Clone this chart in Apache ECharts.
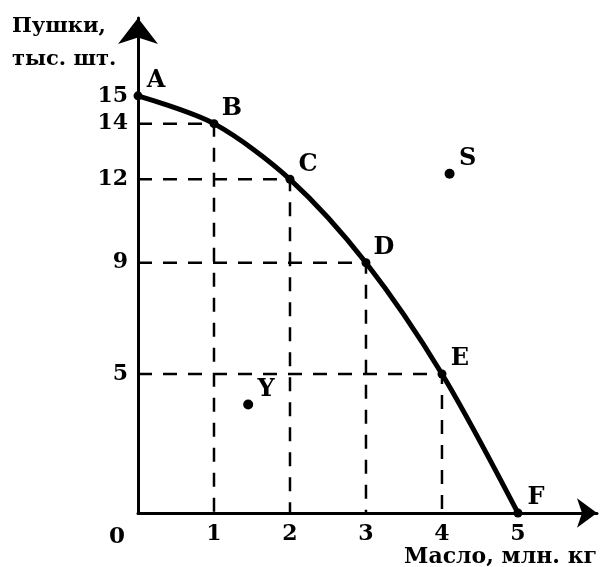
<!DOCTYPE html>
<html>
<head>
<meta charset="utf-8">
<script src="https://cdn.jsdelivr.net/npm/echarts@6/dist/echarts.min.js"></script>
<style>
  html, body { margin: 0; padding: 0; background: #fff; }
  #chart { width: 600px; height: 567px; }
</style>
</head>
<body>
<div id="chart"></div>
<script>
// production possibilities: butter (mln kg) vs guns (thousand pcs)
const pointNames = ['A', 'B', 'C', 'D', 'E', 'F'];
const butter = [0, 1, 2, 3, 4, 5];
const guns = [15, 14, 12, 9, 5, 0];

// points off the curve
const extraNames = ['S', 'Y'];
const extraButter = [4.1, 1.45];
const extraGuns = [12.2, 3.9];

const xTicks = [1, 2, 3, 4, 5];
const yTicks = [15, 14, 12, 9, 5];

const FONT = "'DejaVu Serif', 'Liberation Serif', serif";
const INK = '#000';

// dashed guides: from each inner point to both axes
const guides = [];
for (let i = 1; i < butter.length - 1; i++) {
  guides.push([0, guns[i]], [butter[i], guns[i]], [butter[i], 0], '-');
}

const curve = butter.map((x, i) => [x, guns[i]]);
const extra = extraButter.map((x, i) => ({ value: [x, extraGuns[i]], name: extraNames[i] }));
const named = butter.map((x, i) => ({ value: [x, guns[i]], name: pointNames[i] }));

const pointLabel = {
  show: true,
  position: 'inside',
  offset: [18, -15],
  formatter: p => p.name,
  color: INK,
  textBorderWidth: 0,
  fontFamily: FONT,
  fontWeight: 'bold',
  fontSize: 24
};

const tickLabel = {
  margin: 10,
  color: INK,
  fontFamily: FONT,
  fontWeight: 'bold',
  fontSize: 22
};

const chart = echarts.init(document.getElementById('chart'));
chart.setOption({
  animation: false,
  backgroundColor: '#fff',
  grid: { left: 138, right: 3, top: 18, bottom: 54 },
  xAxis: {
    type: 'value',
    min: 0,
    max: 6.04,
    axisLine: {
      lineStyle: { color: INK, width: 3 },
      symbol: ['none', 'arrow'],
      symbolSize: [22, 20]
    },
    axisTick: { show: false },
    splitLine: { show: false },
    axisLabel: Object.assign({ customValues: xTicks }, tickLabel)
  },
  yAxis: {
    type: 'value',
    min: 0,
    max: 17.8,
    axisLine: {
      lineStyle: { color: INK, width: 3 },
      symbol: ['none', 'arrow'],
      symbolSize: [30, 26]
    },
    axisTick: { show: false },
    splitLine: { show: false },
    axisLabel: Object.assign({ customValues: yTicks }, tickLabel)
  },
  graphic: [
    {
      type: 'text', left: 12, top: 10,
      style: {
        text: 'Пушки,\nтыс. шт.', fill: INK,
        font: "bold 21px 'DejaVu Serif', serif", lineHeight: 33
      }
    },
    {
      type: 'text', left: 109, top: 526,
      style: { text: '0', fill: INK, font: "bold 23px 'DejaVu Serif', serif" }
    },
    {
      type: 'text', right: 3, top: 546,
      style: { text: 'Масло, млн. кг', fill: INK, font: "bold 22px 'DejaVu Serif', serif" }
    }
  ],
  series: [
    {
      type: 'line',
      data: guides,
      connectNulls: false,
      symbol: 'none',
      lineStyle: { color: INK, width: 2.5, type: [14, 11] },
      z: 1
    },
    {
      type: 'line',
      data: curve,
      smooth: 0.3,
      symbol: 'none',
      lineStyle: { color: INK, width: 5 },
      z: 2
    },
    {
      type: 'scatter',
      data: named,
      symbolSize: 9,
      itemStyle: { color: INK, opacity: 1 },
      label: pointLabel,
      z: 3
    },
    {
      type: 'scatter',
      data: extra,
      symbolSize: 10,
      itemStyle: { color: INK, opacity: 1 },
      label: pointLabel,
      z: 3
    }
  ]
});
</script>
</body>
</html>
